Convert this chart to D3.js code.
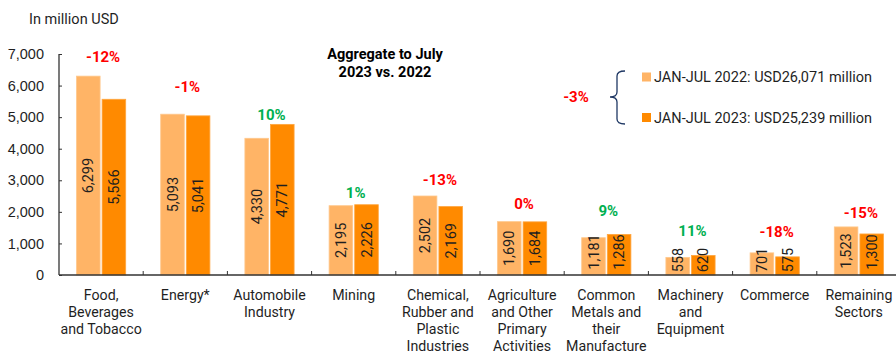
<!DOCTYPE html>
<html>
<head>
<meta charset="utf-8">
<script src="https://cdn.jsdelivr.net/npm/d3@7/dist/d3.min.js"></script>
<style>
  html, body { margin: 0; padding: 0; background: #fff; }
  svg { display: block; font-family: Roboto, "Noto Sans", sans-serif; }
</style>
</head>
<body>
<svg id="chart" width="896" height="351"></svg>
<script>
// Sectors (label lines)
const categories = [
  ["Food,", "Beverages", "and Tobacco"],
  ["Energy*"],
  ["Automobile", "Industry"],
  ["Mining"],
  ["Chemical,", "Rubber and", "Plastic", "Industries"],
  ["Agriculture", "and Other", "Primary", "Activities"],
  ["Common", "Metals and", "their", "Manufacture"],
  ["Machinery", "and", "Equipment"],
  ["Commerce"],
  ["Remaining", "Sectors"]
];
// In million USD
const values2022 = [6299, 5093, 4330, 2195, 2502, 1690, 1181, 558, 701, 1523];
const values2023 = [5566, 5041, 4771, 2226, 2169, 1684, 1286, 620, 575, 1300];
// Year-on-year change labels and the level (million USD) each label sits at
const changeLabels = ["-12%", "-1%", "10%", "1%", "-13%", "0%", "9%", "11%", "-18%", "-15%"];
const changeLabelLevel = [6900, 5950, 5070, 2600, 3020, 2250, 2030, 1400, 1360, 1960];
const yTicks = [0, 1000, 2000, 3000, 4000, 5000, 6000, 7000];
const seriesNames = ["JAN-JUL 2022: USD26,071 million", "JAN-JUL 2023: USD25,239 million"];
const totalChange = "-3%";

const colors = ["#FFB466", "#FF8A00"];
const red = "#FF0000", green = "#00B050", textColor = "#1f1f1f";
const fs = 14.5;

const svg = d3.select("#chart");

const x = d3.scaleBand()
  .domain(d3.range(categories.length))
  .range([59, 59 + 84.2 * categories.length])
  .padding(0);
const y = d3.scaleLinear().domain([0, 7000]).range([275, 54]);

const barW = 23.6, gap = 2;
const sub = (i, s) => x(i) + x.bandwidth() / 2 + (s === 0 ? -gap / 2 - barW : gap / 2);

// Y axis (inner ticks)
const yAxis = svg.append("g")
  .attr("transform", "translate(59,0)")
  .call(d3.axisLeft(y).tickValues(yTicks).tickSize(-3).tickPadding(15)
    .tickFormat(d3.format(",")));
yAxis.select(".domain").attr("d", `M0,${y(7000)}V${y(0)}`).attr("stroke", "#333").attr("stroke-width", 1.3);
yAxis.selectAll(".tick line").attr("stroke", "#333");
yAxis.selectAll(".tick text").attr("font-size", fs).attr("fill", textColor);

// Bars
const data = categories.map((c, i) => ({ i, vals: [values2022[i], values2023[i]] }));
const groups = svg.append("g").selectAll("g").data(data).join("g");
groups.selectAll("rect")
  .data(d => d.vals.map((v, s) => ({ i: d.i, s, v })))
  .join("rect")
  .attr("x", d => sub(d.i, d.s))
  .attr("y", d => y(d.v))
  .attr("width", barW)
  .attr("height", d => y(0) - y(d.v))
  .attr("fill", d => colors[d.s])
  .attr("stroke", d => d.s === 0 ? "#FFC88C" : "#FFA640")
  .attr("stroke-width", 0.8);

// Rotated value labels inside bars
groups.selectAll("text.val")
  .data(d => d.vals.map((v, s) => ({ i: d.i, s, v })))
  .join("text")
  .attr("class", "val")
  .each(function (d) {
    const label = d3.format(",")(d.v);
    const half = label.length * 8.0 / 2;
    const cy = Math.min((y(d.v) + y(0)) / 2, y(0) - 3 - half);
    const cx = sub(d.i, d.s) + barW / 2;
    d3.select(this)
      .attr("transform", `translate(${cx},${cy}) rotate(-90)`)
      .attr("text-anchor", "middle")
      .attr("dy", "0.35em")
      .attr("font-size", fs)
      .attr("fill", textColor)
      .text(label);
  });

// X axis with ticks at band boundaries
const xAxisG = svg.append("g");
xAxisG.append("line")
  .attr("x1", 59).attr("x2", x.range()[1])
  .attr("y1", y(0)).attr("y2", y(0))
  .attr("stroke", "#333").attr("stroke-width", 1.3);
xAxisG.selectAll("line.tk")
  .data(d3.range(1, categories.length + 1))
  .join("line")
  .attr("class", "tk")
  .attr("x1", i => 59 + x.step() * i).attr("x2", i => 59 + x.step() * i)
  .attr("y1", y(0)).attr("y2", y(0) - 4)
  .attr("stroke", "#333");

// Category labels
svg.append("g").selectAll("text")
  .data(categories)
  .join("text")
  .attr("x", (d, i) => x(i) + x.bandwidth() / 2)
  .attr("y", 295)
  .attr("text-anchor", "middle")
  .attr("font-size", 14.2)
  .attr("fill", textColor)
  .each(function (lines) {
    d3.select(this).selectAll("tspan").data(lines).join("tspan")
      .attr("x", d3.select(this).attr("x"))
      .attr("dy", (l, k) => k === 0 ? "0.35em" : 17)
      .text(l => l);
  });

// Change labels
svg.append("g").selectAll("text")
  .data(changeLabels)
  .join("text")
  .attr("x", (d, i) => x(i) + x.bandwidth() / 2 + 2)
  .attr("y", (d, i) => y(changeLabelLevel[i]))
  .attr("dy", "0.35em")
  .attr("text-anchor", "middle")
  .attr("font-size", 15)
  .attr("font-weight", "bold")
  .attr("fill", d => d.startsWith("-") || d === "0%" ? red : green)
  .text(d => d);

// Unit label
svg.append("text")
  .attr("x", 29).attr("y", 19).attr("dy", "0.35em")
  .attr("font-size", fs).attr("fill", textColor)
  .text("In million USD");

// Title
const title = svg.append("text")
  .attr("x", 385).attr("y", 54).attr("text-anchor", "middle")
  .attr("font-size", 14.5).attr("font-weight", "bold").attr("fill", "#000");
["Aggregate to July", "2023 vs. 2022"].forEach((t, k) =>
  title.append("tspan").attr("x", 385).attr("dy", k === 0 ? "0.35em" : 18).text(t));

// Legend
const legend = svg.append("g");
const legY = [77, 117.5];
seriesNames.forEach((name, s) => {
  legend.append("rect")
    .attr("x", 642).attr("y", legY[s] - 4.5).attr("width", 9).attr("height", 9)
    .attr("fill", colors[s]);
  legend.append("text")
    .attr("x", 654).attr("y", legY[s]).attr("dy", "0.35em")
    .attr("font-size", fs).attr("fill", textColor)
    .text(name);
});

// Brace linking the two totals
legend.append("path")
  .attr("d", "M625,71 Q617,71 617,76 L617,92 Q617,97 610,97 Q617,97 617,102 L617,119 Q617,124 625,124")
  .attr("fill", "none").attr("stroke", "#1F3864").attr("stroke-width", 1.3);
legend.append("text")
  .attr("x", 576).attr("y", 97).attr("dy", "0.35em").attr("text-anchor", "middle")
  .attr("font-size", 15).attr("font-weight", "bold").attr("fill", red)
  .text(totalChange);
</script>
</body>
</html>
